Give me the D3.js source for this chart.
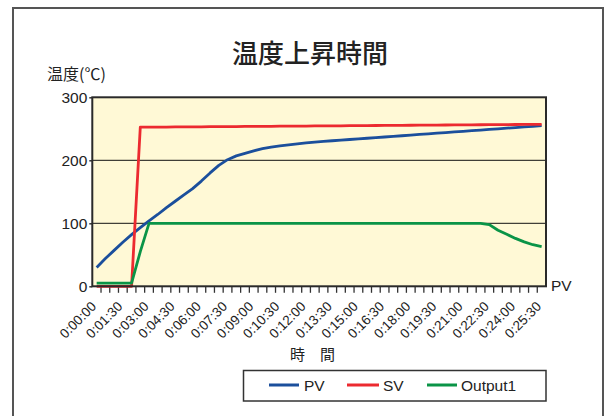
<!DOCTYPE html>
<html>
<head>
<meta charset="utf-8">
<script src="https://cdn.jsdelivr.net/npm/d3@7"></script>
<style>
  html, body { margin: 0; padding: 0; background: #fff; }
  svg { display: block; }
  .latin { font-family: "Liberation Sans", Arial, sans-serif; fill: #222; }
  .cjk { font-family: "Noto Sans CJK JP", sans-serif; fill: #222; }
</style>
</head>
<body>
<svg id="chart" width="608" height="416"></svg>
<script>
// Sample times, every 30 seconds
const times = [
  "0:00:00","0:00:30","0:01:00","0:01:30","0:02:00","0:02:30","0:03:00","0:03:30",
  "0:04:00","0:04:30","0:05:00","0:05:30","0:06:00","0:06:30","0:07:00","0:07:30",
  "0:08:00","0:08:30","0:09:00","0:09:30","0:10:00","0:10:30","0:11:00","0:11:30",
  "0:12:00","0:12:30","0:13:00","0:13:30","0:14:00","0:14:30","0:15:00","0:15:30",
  "0:16:00","0:16:30","0:17:00","0:17:30","0:18:00","0:18:30","0:19:00","0:19:30",
  "0:20:00","0:20:30","0:21:00","0:21:30","0:22:00","0:22:30","0:23:00","0:23:30",
  "0:24:00","0:24:30","0:25:00","0:25:30"
];

// Process value (°C)
const pv = [
  30, 44, 57, 70, 82, 93, 104, 114, 125, 135, 145, 155,
  167, 180, 192, 201, 207, 211, 215, 218.5, 221, 223, 224.5, 226,
  227.5, 229, 230, 231, 232, 233, 234, 235, 236, 237, 238, 239,
  240, 241, 242, 243, 244, 245, 246, 247, 248, 249, 250, 251,
  252, 253, 254, 255
];

// Set value (°C)
const sv = [
  0, 0, 0, 0, 0, 252.5, 252.6, 252.7, 252.8, 252.9, 253, 253.1,
  253.2, 253.3, 253.4, 253.5, 253.6, 253.7, 253.8, 253.9, 254, 254.1, 254.2, 254.3,
  254.4, 254.5, 254.6, 254.7, 254.8, 254.9, 255, 255.1, 255.2, 255.3, 255.4, 255.5,
  255.6, 255.7, 255.8, 255.9, 256, 256.1, 256.2, 256.3, 256.4, 256.5, 256.6, 256.7,
  256.8, 256.9, 257, 257.1
];

// Heater output (%)
const output1 = [
  5, 5, 5, 5, 5, 55, 100, 100, 100, 100, 100, 100,
  100, 100, 100, 100, 100, 100, 100, 100, 100, 100, 100, 100,
  100, 100, 100, 100, 100, 100, 100, 100, 100, 100, 100, 100,
  100, 100, 100, 100, 100, 100, 100, 100, 100, 98, 89, 82.5,
  76, 70.5, 66, 63
];

const yTicks = [0, 100, 200, 300];
const gridValues = [100, 200];
const labelStep = 3; // label every 1:30

const series = [
  { name: "PV", values: pv, color: "#1b4f9c" },
  { name: "SV", values: sv, color: "#ec2a30" },
  { name: "Output1", values: output1, color: "#0a9447" }
];

const svg = d3.select("#chart");

// Outer frame
svg.append("rect")
  .attr("x", 13).attr("y", 8).attr("width", 590).attr("height", 420)
  .attr("fill", "#fff").attr("stroke", "#555").attr("stroke-width", 2);

const plot = { left: 92.3, right: 546, top: 97.3, bottom: 286.3 };

const x = d3.scaleBand().domain(times).range([plot.left, plot.right]).padding(0);
const y = d3.scaleLinear().domain([0, 300]).range([plot.bottom, plot.top]);
const cx = t => x(t) + x.bandwidth() / 2;

// Plot background
svg.append("rect")
  .attr("x", plot.left).attr("y", plot.top)
  .attr("width", plot.right - plot.left).attr("height", plot.bottom - plot.top)
  .attr("fill", "#fff9d6");

// Gridlines
svg.append("g").selectAll("line").data(gridValues).join("line")
  .attr("x1", plot.left).attr("x2", plot.right)
  .attr("y1", d => y(d)).attr("y2", d => y(d))
  .attr("stroke", "#111").attr("stroke-width", 1);

// Y axis ticks and labels
const yAxis = d3.axisLeft(y).tickValues(yTicks).tickSize(3).tickPadding(3).tickFormat(d3.format("d"));
const yg = svg.append("g").attr("transform", `translate(${plot.left},0)`).call(yAxis);
yg.select(".domain").remove();
yg.selectAll(".tick line").attr("stroke", "#333").attr("stroke-width", 1.5);
yg.selectAll(".tick text")
  .attr("class", "latin").attr("font-size", 15.5).attr("fill", "#222")
  .attr("x", -5).attr("dy", "0.36em");

// X axis tick marks at category boundaries
svg.append("g").selectAll("line").data(times.slice(1)).join("line")
  .attr("x1", d => x(d)).attr("x2", d => x(d))
  .attr("y1", plot.bottom).attr("y2", plot.bottom + 6.5)
  .attr("stroke", "#333").attr("stroke-width", 1.3);

// X axis labels, rotated
const labelTimes = times.filter((d, i) => i % labelStep === 0);
svg.append("g").selectAll("text").data(labelTimes).join("text")
  .attr("class", "latin")
  .attr("font-size", 13.5)
  .attr("text-anchor", "end")
  .attr("transform", d => `translate(${cx(d) + 0.5},${plot.bottom + 21}) rotate(-45)`)
  .text(d => d);

// Series lines
const line = d3.line()
  .x((d, i) => cx(times[i]))
  .y(d => y(d));

svg.append("g").selectAll("path").data(series).join("path")
  .attr("d", s => line(s.values))
  .attr("fill", "none")
  .attr("stroke", s => s.color)
  .attr("stroke-width", 2.8)
  .attr("stroke-linejoin", "round");

// Plot frame
svg.append("rect")
  .attr("x", plot.left).attr("y", plot.top)
  .attr("width", plot.right - plot.left).attr("height", plot.bottom - plot.top)
  .attr("fill", "none").attr("stroke", "#2a2a2a").attr("stroke-width", 2);

// Titles
svg.append("text").attr("class", "cjk")
  .attr("x", 310).attr("y", 63).attr("text-anchor", "middle")
  .attr("font-size", 26).attr("font-weight", 500)
  .text("温度上昇時間");

svg.append("text").attr("class", "cjk")
  .attr("x", 47).attr("y", 79.5).attr("font-size", 16)
  .text("温度(℃)");

svg.append("text").attr("class", "latin")
  .attr("x", 551).attr("y", 290.7).attr("font-size", 15.5)
  .text("PV");

svg.append("text").attr("class", "cjk")
  .attr("x", 312.5).attr("y", 359.5).attr("text-anchor", "middle").attr("font-size", 15)
  .text("時　間");

// Legend
const legend = svg.append("g");
legend.append("rect")
  .attr("x", 243.5).attr("y", 370.5).attr("width", 302.5).attr("height", 30.5)
  .attr("fill", "#fff").attr("stroke", "#333").attr("stroke-width", 1.5);

const legendPos = [
  { x1: 269, x2: 299, tx: 304 },
  { x1: 347, x2: 379, tx: 383 },
  { x1: 427, x2: 457, tx: 461 }
];
series.forEach((s, i) => {
  const p = legendPos[i];
  legend.append("line")
    .attr("x1", p.x1).attr("x2", p.x2).attr("y1", 385).attr("y2", 385)
    .attr("stroke", s.color).attr("stroke-width", 3);
  legend.append("text").attr("class", "latin")
    .attr("x", p.tx).attr("y", 390.7).attr("font-size", 15.5)
    .text(s.name);
});
</script>
</body>
</html>
